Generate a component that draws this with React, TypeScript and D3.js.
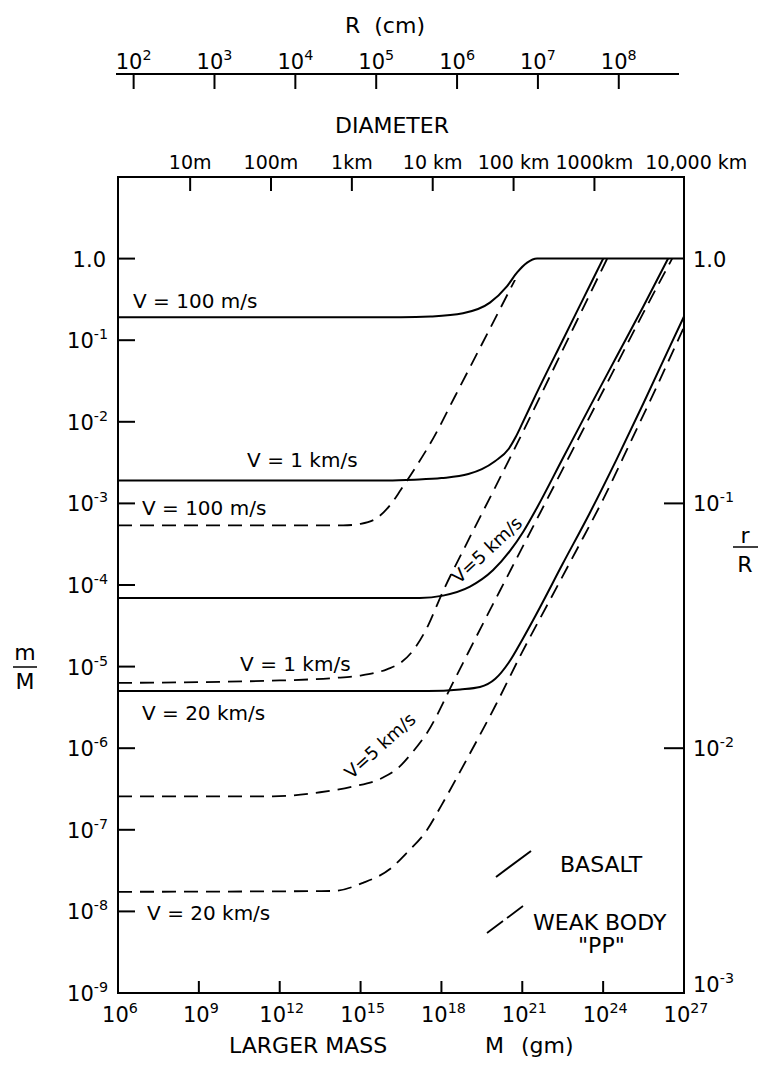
import React from "react";
import * as d3 from "d3";

// axis decades (exponents)
const massExp = [6, 9, 12, 15, 18, 21, 24, 27];
const ratioExp = [0, -1, -2, -3, -4, -5, -6, -7, -8, -9];
const smallRatioExp = [0, -1, -2, -3];
const radiusExp = [2, 3, 4, 5, 6, 7, 8];
const diameterCm = [1e3, 1e4, 1e5, 1e6, 1e7, 1e8, 1e9];
const diameterLabels = ["10m", "100m", "1km", "10 km", "100 km", "1000km", "10,000 km"];

// curves: [log10 M (gm), log10 m/M]
const basalt100ms = [
  [6, -0.72], [16.5, -0.72], [17.6, -0.71], [18.8, -0.67], [19.8, -0.54],
  [20.43, -0.34], [20.81, -0.17], [21.18, -0.05], [21.55, 0], [27, 0],
];
const basalt1kms = [
  [6, -2.72], [16, -2.72], [17, -2.71], [18, -2.69], [19, -2.64], [19.5, -2.58],
  [20, -2.48], [20.5, -2.33], [20.75, -2.19], [21, -2.02], [21.5, -1.67],
  [22.5, -1.0], [23.25, -0.5], [24.0, 0],
];
const basalt5kms = [
  [6, -4.16], [17.2, -4.16], [18.06, -4.13], [19.06, -4.02], [19.91, -3.82],
  [20.55, -3.58], [21.03, -3.35], [21.55, -3.05], [22.5, -2.45], [23.5, -1.82],
  [24.5, -1.2], [25.5, -0.58], [26.41, 0],
];
const basalt20kms = [
  [6, -5.3], [17.5, -5.3], [18.7, -5.28], [19.43, -5.25], [20.0, -5.15],
  [20.5, -4.95], [21.0, -4.67], [21.5, -4.37], [22.5, -3.74], [23.5, -3.12],
  [24.5, -2.46], [25.5, -1.77], [26.5, -1.06], [27, -0.71],
];
const weak100ms = [
  [6, -3.27], [14.35, -3.27], [15.0, -3.25], [15.6, -3.18], [16.1, -3.02],
  [16.5, -2.83], [17.0, -2.58], [17.7, -2.2], [18.5, -1.69], [19.5, -1.05], [20.73, -0.26],
];
const weak1kms = [
  [6, -5.2], [12, -5.17], [14, -5.14], [15, -5.11], [16, -5.03], [16.5, -4.95],
  [17, -4.78], [17.5, -4.5], [18, -4.12], [19, -3.45], [20, -2.8], [21, -2.14],
  [22, -1.46], [23, -0.78], [24.15, 0],
];
const weak5kms = [
  [6, -6.59], [11.75, -6.59], [13.5, -6.54], [14.72, -6.47], [15.83, -6.36],
  [16.4, -6.24], [16.9, -6.06], [17.47, -5.81], [18.5, -5.15], [19.5, -4.5],
  [20.5, -3.86], [21.5, -3.22], [22.5, -2.58], [23.5, -1.94], [24.5, -1.3],
  [25.5, -0.66], [26.56, 0],
];
const weak20kms = [
  [6, -7.76], [13.98, -7.75], [15.09, -7.65], [16.09, -7.48], [16.72, -7.28],
  [17.47, -7.0], [18.0, -6.7], [19.0, -6.1], [20.0, -5.48], [21.0, -4.82],
  [22.0, -4.2], [23.0, -3.58], [24.0, -2.95], [25.0, -2.26], [26.0, -1.56], [26.97, -0.86],
];

// curve labels: text, [log M, log m/M] anchor (start of baseline)
const curveLabels = [
  { text: "V = 100 m/s", at: [6.56, -0.6] },
  { text: "V = 1 km/s", at: [10.79, -2.56] },
  { text: "V = 100 m/s", at: [6.89, -3.14] },
  { text: "V = 1 km/s", at: [10.53, -5.06] },
  { text: "V = 20 km/s", at: [6.89, -5.65] },
  { text: "V = 20 km/s", at: [7.08, -8.1] },
];
const slantLabels = [
  { text: "V=5 km/s", at: [19.69, -3.57], angle: -43 },
  { text: "V=5 km/s", at: [15.72, -5.97], angle: -42 },
];

const W = 771;
const H = 1066;
const FONT = "'DejaVu Sans', sans-serif";

const x = d3.scaleLog().domain([1e6, 1e27]).range([118, 684]);
const y = d3.scaleLog().domain([1e-9, 10]).range([993, 177]);
// radius (cm) -> mass axis, M ~ k R^3
const massOfRadius = (r) => Math.pow(10, 0.58) * r * r * r;

const line = d3
  .line()
  .x((d) => x(Math.pow(10, d[0])))
  .y((d) => y(Math.pow(10, d[1])))
  .curve(d3.curveMonotoneX);

const Pow = ({ exp, x0, y0, anchor, size = 20 }) => (
  <text x={x0} y={y0} textAnchor={anchor} fontSize={size} fontFamily={FONT}>
    10
    <tspan dy={-9} fontSize={size * 0.68}>
      {exp}
    </tspan>
  </text>
);

export default function App() {
  const left = x(1e6);
  const right = x(1e27);
  const top = y(10);
  const bottom = y(1e-9);
  const rAxisY = 74;

  const solids = [basalt100ms, basalt1kms, basalt5kms, basalt20kms];
  const dashes = [weak100ms, weak1kms, weak5kms, weak20kms];

  return (
    <div style={{ position: "absolute", left: 0, top: 0 }}>
      <svg width={W} height={H} style={{ display: "block", background: "#fff" }}>
        {/* R (cm) axis */}
        <text x={385} y={33} textAnchor="middle" fontSize={22} fontFamily={FONT} style={{ whiteSpace: "pre" }}>
          {"R  (cm)"}
        </text>
        <line x1={116} x2={679} y1={rAxisY} y2={rAxisY} stroke="#000" strokeWidth={2} />
        {radiusExp.map((e) => {
          const px = x(massOfRadius(Math.pow(10, e)));
          return (
            <g key={"r" + e}>
              <line x1={px} x2={px} y1={rAxisY} y2={rAxisY + 15} stroke="#000" strokeWidth={2} />
              <Pow exp={e} x0={px} y0={69} anchor="middle" size={21} />
            </g>
          );
        })}

        {/* diameter axis */}
        <text x={392} y={133} textAnchor="middle" fontSize={22} fontFamily={FONT}>
          DIAMETER
        </text>
        {diameterCm.map((d, i) => {
          const px = x(massOfRadius(d / 2));
          const last = i === diameterCm.length - 1;
          return (
            <g key={"d" + d}>
              {!last && <line x1={px} x2={px} y1={top} y2={top + 14} stroke="#000" strokeWidth={2} />}
              <text
                x={last ? px - 30 : px}
                y={169}
                textAnchor={last ? "start" : "middle"}
                fontSize={19}
                fontFamily={FONT}
              >
                {diameterLabels[i]}
              </text>
            </g>
          );
        })}

        {/* frame */}
        <rect x={left} y={top} width={right - left} height={bottom - top} fill="none" stroke="#000" strokeWidth={2} />

        {/* bottom ticks */}
        {massExp.map((e) => {
          const px = x(Math.pow(10, e));
          const edge = e === 6 || e === 27;
          return (
            <g key={"m" + e}>
              {!edge && <line x1={px} x2={px} y1={bottom} y2={bottom - 12} stroke="#000" strokeWidth={2} />}
              <Pow exp={e} x0={px + 2} y0={1022} anchor="middle" size={21} />
            </g>
          );
        })}

        {/* left ticks */}
        {ratioExp.map((e) => {
          const py = y(Math.pow(10, e));
          return (
            <g key={"l" + e}>
              {e !== -9 && <line x1={left} x2={left + 17} y1={py} y2={py} stroke="#000" strokeWidth={2} />}
              {e === 0 ? (
                <text x={106} y={py + 8} textAnchor="end" fontSize={21} fontFamily={FONT}>
                  1.0
                </text>
              ) : (
                <Pow exp={"-" + -e} x0={108} y0={py + 8} anchor="end" size={21} />
              )}
            </g>
          );
        })}

        {/* right ticks r/R */}
        {smallRatioExp.map((e) => {
          const py = y(Math.pow(Math.pow(10, e), 3));
          return (
            <g key={"rr" + e}>
              {e !== 0 && e !== -3 && (
                <line x1={right} x2={right - 20} y1={py} y2={py} stroke="#000" strokeWidth={2} />
              )}
              {e === 0 ? (
                <text x={693} y={py + 8} fontSize={21} fontFamily={FONT}>
                  1.0
                </text>
              ) : (
                <Pow exp={"-" + -e} x0={693} y0={e === -3 ? py - 1 : py + 8} anchor="start" size={21} />
              )}
            </g>
          );
        })}

        {/* axis titles */}
        <text x={25} y={660} textAnchor="middle" fontSize={22} fontFamily={FONT}>m</text>
        <line x1={13} x2={37} y1={667} y2={667} stroke="#000" strokeWidth={1.5} />
        <text x={25} y={689} textAnchor="middle" fontSize={22} fontFamily={FONT}>M</text>

        <text x={745} y={543} textAnchor="middle" fontSize={22} fontFamily={FONT}>r</text>
        <line x1={733} x2={758} y1={547} y2={547} stroke="#000" strokeWidth={1.5} />
        <text x={745} y={572} textAnchor="middle" fontSize={22} fontFamily={FONT}>R</text>

        <text x={229} y={1053} fontSize={22} fontFamily={FONT}>LARGER MASS</text>
        <text x={485} y={1053} fontSize={22} fontFamily={FONT}>M</text>
        <text x={521} y={1053} fontSize={22} fontFamily={FONT}>(gm)</text>

        {/* curves */}
        {solids.map((c, i) => (
          <path key={"s" + i} d={line(c)} fill="none" stroke="#000" strokeWidth={2} />
        ))}
        {dashes.map((c, i) => (
          <path key={"w" + i} d={line(c)} fill="none" stroke="#000" strokeWidth={1.8} strokeDasharray="14 8" />
        ))}

        {/* curve labels */}
        {curveLabels.map((l, i) => (
          <text
            key={"cl" + i}
            x={x(Math.pow(10, l.at[0]))}
            y={y(Math.pow(10, l.at[1]))}
            fontSize={20}
            fontFamily={FONT}
          >
            {l.text}
          </text>
        ))}
        {slantLabels.map((l, i) => {
          const px = x(Math.pow(10, l.at[0]));
          const py = y(Math.pow(10, l.at[1]));
          return (
            <text
              key={"sl" + i}
              x={px}
              y={py}
              dy="0.35em"
              textAnchor="middle"
              fontSize={18}
              fontFamily={FONT}
              transform={`rotate(${l.angle},${px},${py})`}
            >
              {l.text}
            </text>
          );
        })}

        {/* legend */}
        <g transform="translate(496,877)">
          <line x1={0} y1={0} x2={35} y2={-26} stroke="#000" strokeWidth={2} />
          <text x={64} y={-5} fontSize={22} fontFamily={FONT}>BASALT</text>
          <line x1={-9} y1={56} x2={27} y2={29} stroke="#000" strokeWidth={1.8} strokeDasharray="20 5" />
          <text x={37} y={53} fontSize={22} fontFamily={FONT}>WEAK BODY</text>
          <text x={82} y={76} fontSize={22} fontFamily={FONT}>"PP"</text>
        </g>
      </svg>
    </div>
  );
}
